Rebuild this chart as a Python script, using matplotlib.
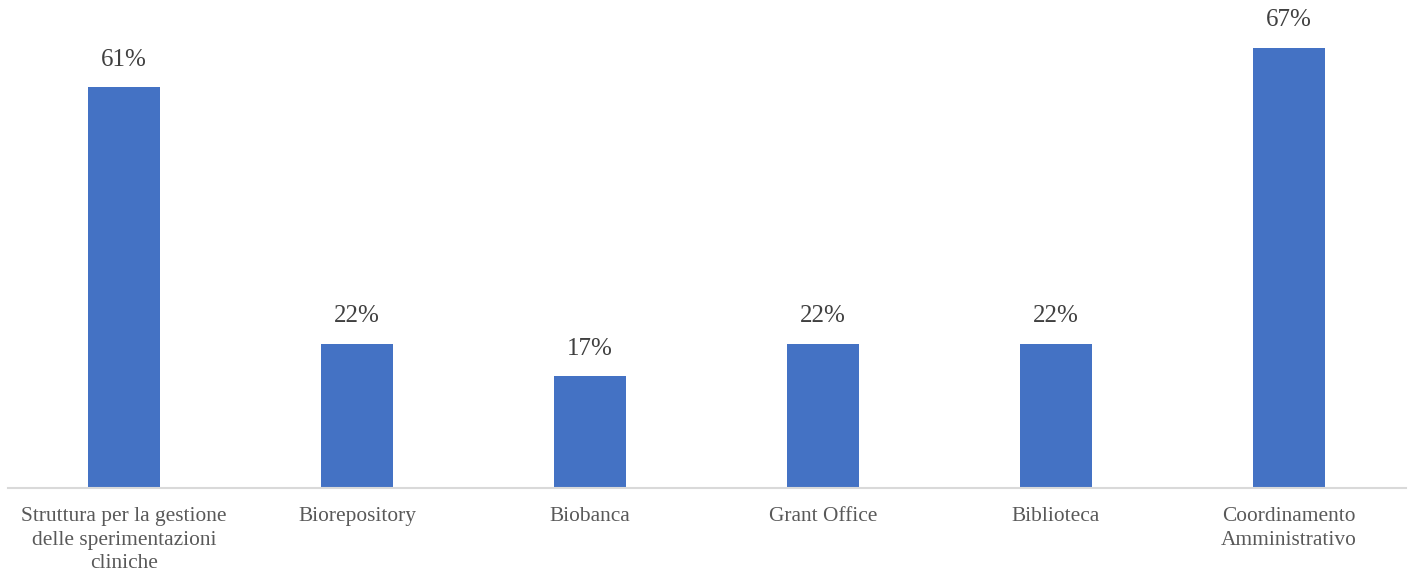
import numpy as np
import matplotlib.pyplot as plt

categories = ['Struttura per la gestione\ndelle sperimentazioni\ncliniche', 'Biorepository',
              'Biobanca', 'Grant Office', 'Biblioteca', 'Coordinamento\nAmministrativo']
values = [61, 22, 17, 22, 22, 67]
value_labels = ['61%', '22%', '17%', '22%', '22%', '67%']

plt.rcParams['font.family'] = ['Liberation Serif', 'DejaVu Serif']

fig = plt.figure(figsize=(14.08, 5.78), dpi=100)
ax = fig.add_axes([7.5 / 1408, 90 / 578, 1398 / 1408, 488 / 578])

x = np.arange(len(categories))
bars = ax.bar(x, values, width=0.31, color='#4472C4')

# Value labels above bars
for b, lab in zip(bars, value_labels):
    ax.annotate(lab, (b.get_x() + b.get_width() / 2, b.get_height()),
                xytext=(0, 12), textcoords='offset points',
                ha='center', va='bottom', fontsize=18, color='#404040')

ax.set_xlim(-0.5, len(categories) - 0.5)
ax.set_ylim(0, 74.3)
ax.set_xticks(x)
ax.set_xticklabels(categories, fontsize=15.4, color='#595959', linespacing=1.32)
ax.tick_params(axis='x', length=0, pad=14)
ax.set_yticks([])

for s in ['top', 'right', 'left']:
    ax.spines[s].set_visible(False)
ax.spines['bottom'].set_color('#D9D9D9')
ax.spines['bottom'].set_linewidth(1.5)

plt.savefig('out.png', dpi=100)
